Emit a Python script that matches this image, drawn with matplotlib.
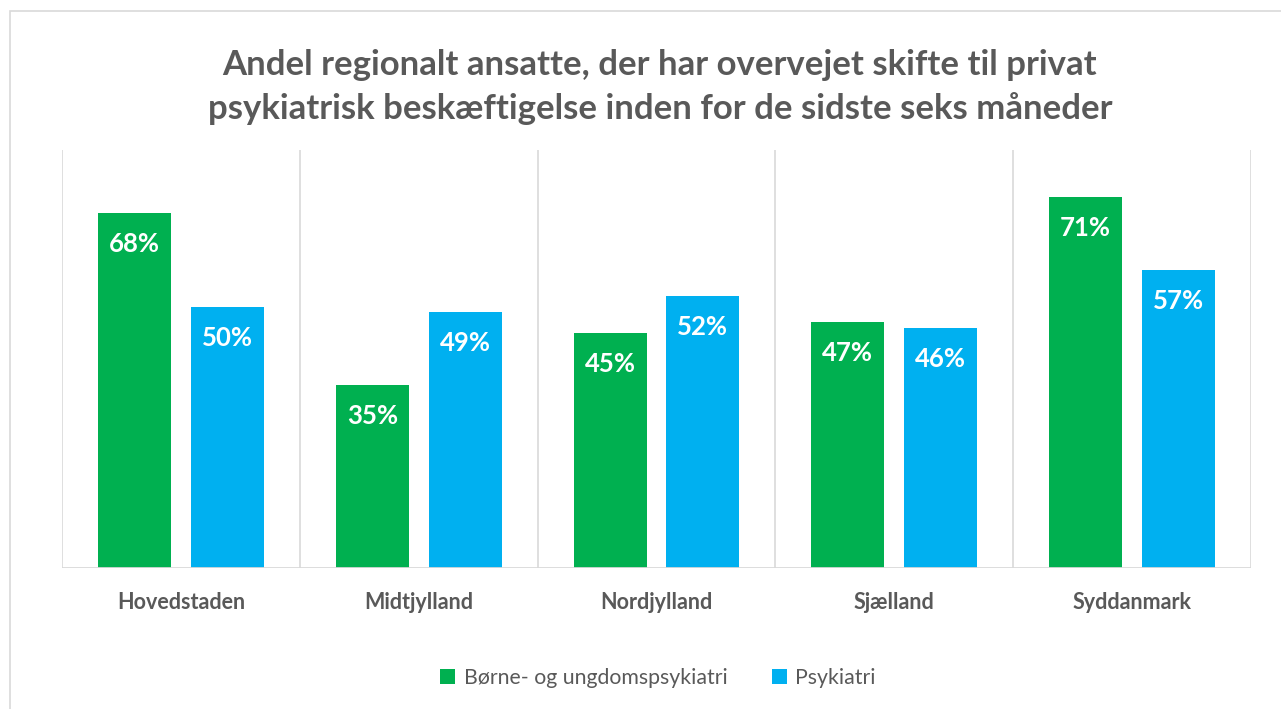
import numpy as np
import matplotlib.pyplot as plt
from matplotlib.patches import Rectangle

regions = ["Hovedstaden", "Midtjylland", "Nordjylland", "Sjælland", "Syddanmark"]
boern = [0.68, 0.35, 0.45, 0.47, 0.71]
psyk = [0.50, 0.49, 0.52, 0.46, 0.57]
series_names = ["Børne- og ungdomspsykiatri", "Psykiatri"]

GREEN = "#00B050"
BLUE = "#00B0F0"
GRAY = "#595959"
GRID = "#D9D9D9"

plt.rcParams["font.family"] = ["Lato", "DejaVu Sans"]

fig = plt.figure(figsize=(12.81, 7.09), dpi=100)
fig.patches.append(Rectangle((10 / 1281, -0.01), 1.02, 1 - 11 / 709 + 0.01,
                             transform=fig.transFigure, fill=False,
                             edgecolor=GRID, linewidth=1.2))

ax = fig.add_axes([62 / 1281, 1 - 568 / 709, (1251 - 62) / 1281, (568 - 150) / 709])

x = np.arange(len(regions))
w = 0.307
off = 0.195
b1 = ax.bar(x - off, boern, w, color=GREEN, label=series_names[0])
b2 = ax.bar(x + off, psyk, w, color=BLUE, label=series_names[1])

for bars in (b1, b2):
    for r in bars:
        ax.annotate(f"{r.get_height() * 100:.0f}%",
                    (r.get_x() + r.get_width() / 2, r.get_height()),
                    xytext=(0, -31), textcoords="offset pixels",
                    ha="center", va="center", color="white",
                    fontsize=18.5, fontweight="bold")

ax.set_xlim(-0.5, len(regions) - 0.5)
ax.set_ylim(0, 0.8)
for b in np.arange(-0.5, len(regions), 1.0):
    ax.axvline(b, color=GRID, linewidth=1.2, zorder=0)
ax.axhline(0, color=GRID, linewidth=2, zorder=3)

ax.set_xticks(x)
ax.set_xticklabels(regions, fontsize=15.5, fontweight="bold", color=GRAY)
ax.tick_params(axis="x", length=0, pad=17)
ax.set_yticks([])
for s in ax.spines.values():
    s.set_visible(False)

fig.text(660 / 1281, 1 - 87 / 709,
         "Andel regionalt ansatte, der har overvejet skifte til privat\n"
         "psykiatrisk beskæftigelse inden for de sidste seks måneder",
         ha="center", va="center", fontsize=25, fontweight="bold",
         color=GRAY, linespacing=1.4)

fig.legend(handles=[b1, b2], labels=series_names, loc="center",
           bbox_to_anchor=(658 / 1281, 1 - 678 / 709), ncol=2, frameon=False,
           fontsize=15.3, labelcolor=GRAY, handlelength=0.7, handleheight=0.7,
           handletextpad=0.4, columnspacing=2.1)

fig.savefig("out.png", dpi=100)
